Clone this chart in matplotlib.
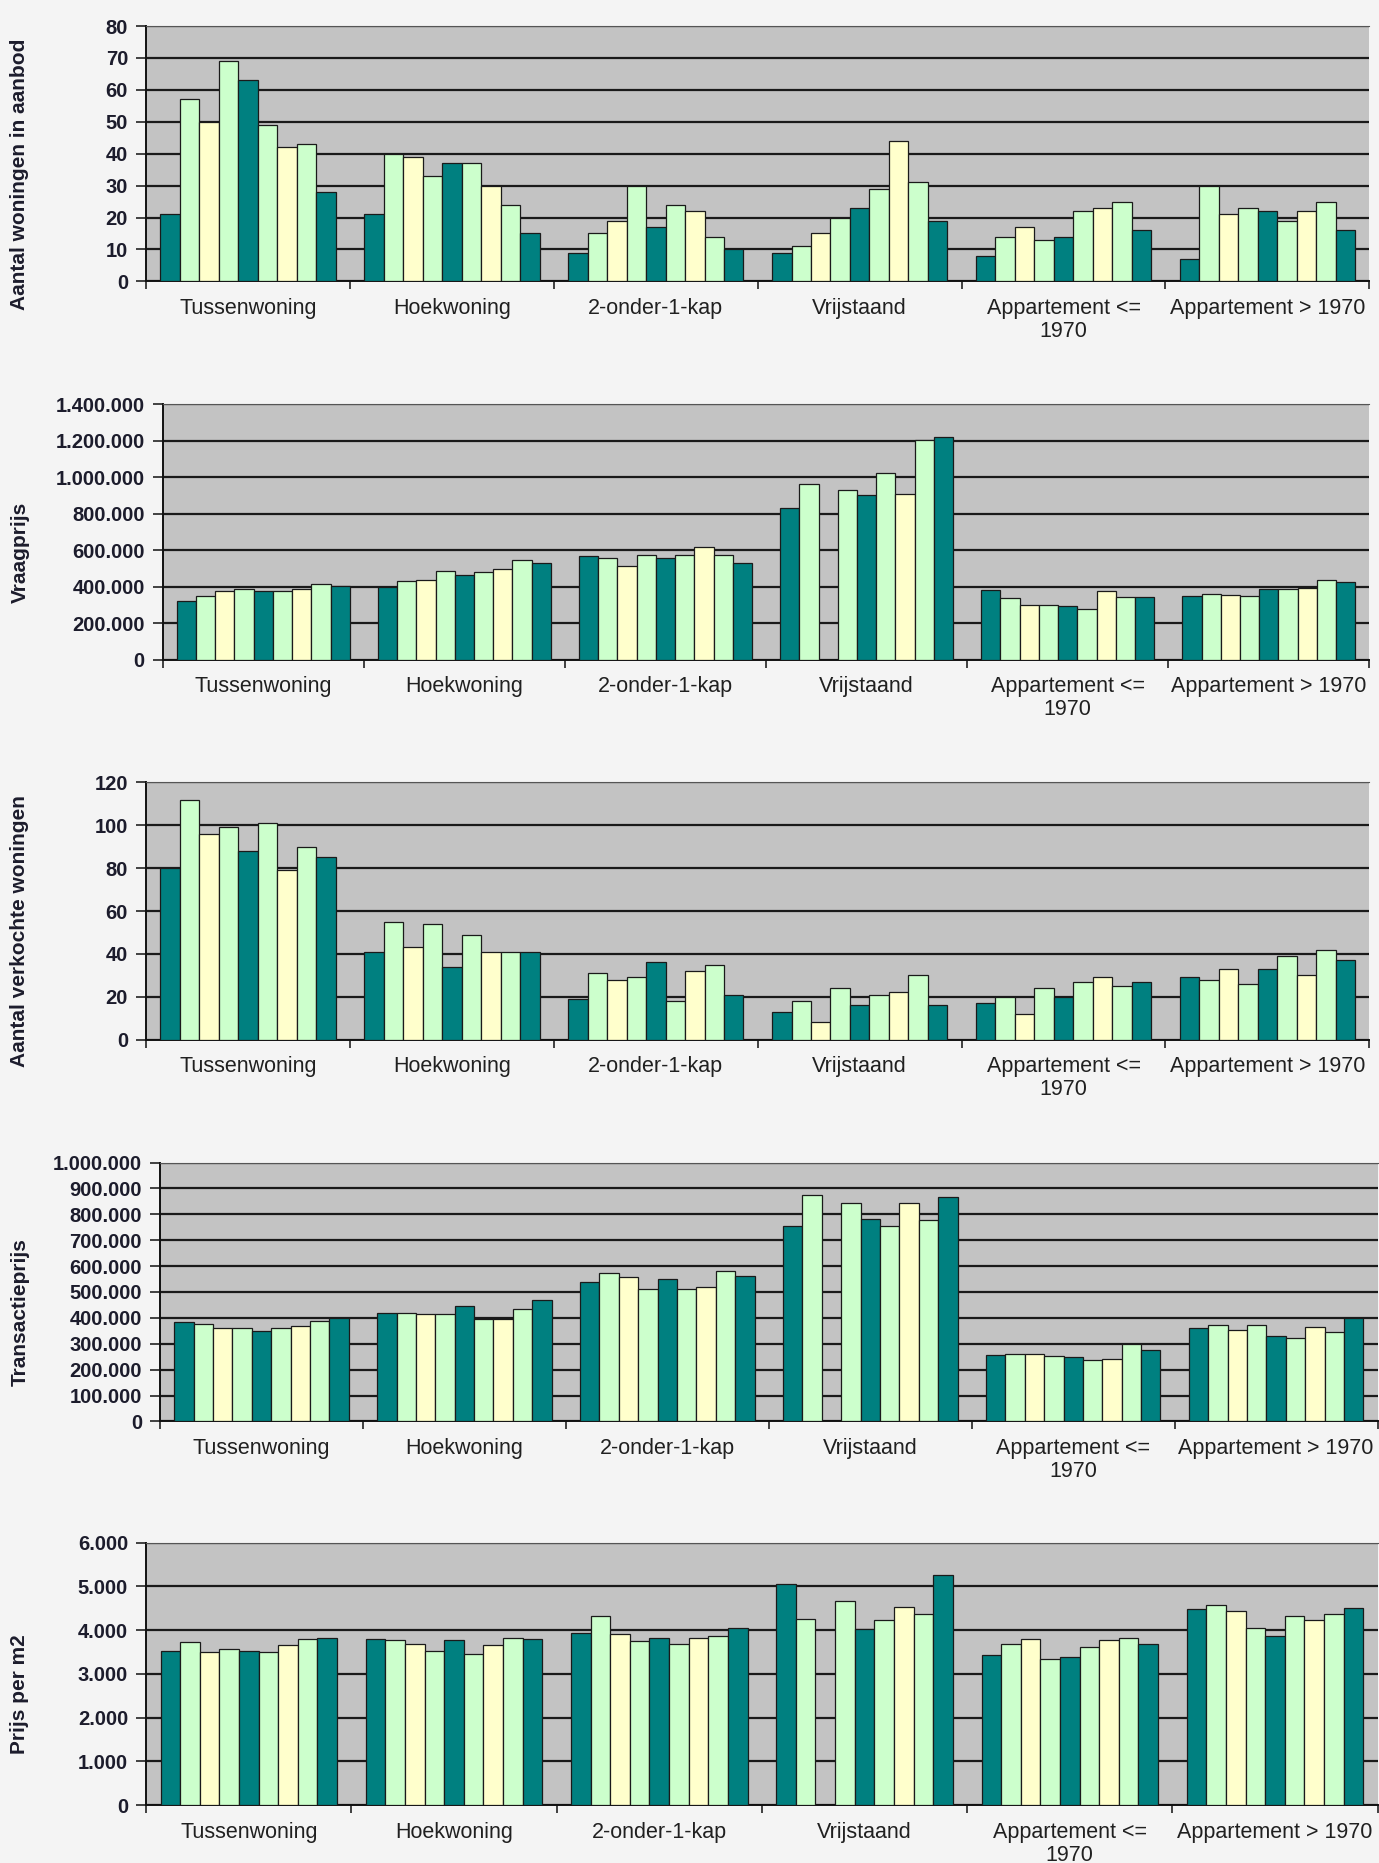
import numpy as np
import matplotlib.pyplot as plt
from matplotlib.ticker import FuncFormatter, MultipleLocator

plt.rcParams['font.family'] = ['Liberation Sans', 'DejaVu Sans']

categories = ['Tussenwoning', 'Hoekwoning', '2-onder-1-kap', 'Vrijstaand',
              'Appartement <=\n1970', 'Appartement > 1970']

# 9 series per category, colours repeat dark / green / yellow / green
bar_colors = ['#008080', '#ccffcc', '#ffffcc', '#ccffcc', '#008080',
              '#ccffcc', '#ffffcc', '#ccffcc', '#008080']

aanbod = [
    [21, 57, 50, 69, 63, 49, 42, 43, 28],
    [21, 40, 39, 33, 37, 37, 30, 24, 15],
    [9, 15, 19, 30, 17, 24, 22, 14, 10],
    [9, 11, 15, 20, 23, 29, 44, 31, 19],
    [8, 14, 17, 13, 14, 22, 23, 25, 16],
    [7, 30, 21, 23, 22, 19, 22, 25, 16],
]

vraagprijs = [
    [322000, 351000, 375000, 384000, 376000, 376000, 384000, 413000, 405000],
    [396000, 431000, 438000, 485000, 464000, 478000, 496000, 544000, 529000],
    [567000, 555000, 515000, 571000, 558000, 575000, 618000, 575000, 531000],
    [831000, 962000, np.nan, 931000, 902000, 1024000, 909000, 1204000, 1222000],
    [382000, 336000, 300000, 300000, 295000, 278000, 376000, 345000, 345000],
    [349000, 362000, 356000, 347000, 389000, 387000, 393000, 438000, 425000],
]

verkocht = [
    [80, 112, 96, 99, 88, 101, 79, 90, 85],
    [41, 55, 43, 54, 34, 49, 41, 41, 41],
    [19, 31, 28, 29, 36, 18, 32, 35, 21],
    [13, 18, 8, 24, 16, 21, 22, 30, 16],
    [17, 20, 12, 24, 20, 27, 29, 25, 27],
    [29, 28, 33, 26, 33, 39, 30, 42, 37],
]

transactieprijs = [
    [383000, 378000, 360000, 360000, 349000, 360000, 368000, 387000, 399000],
    [420000, 420000, 414000, 414000, 445000, 396000, 396000, 433000, 469000],
    [538000, 573000, 556000, 513000, 550000, 513000, 521000, 580000, 562000],
    [756000, 874000, np.nan, 844000, 782000, 756000, 844000, 779000, 868000],
    [255000, 259000, 259000, 254000, 249000, 236000, 241000, 299000, 276000],
    [360000, 372000, 355000, 372000, 329000, 323000, 365000, 344000, 399000],
]

prijs_m2 = [
    [3530, 3720, 3490, 3570, 3530, 3490, 3650, 3790, 3830],
    [3800, 3770, 3690, 3530, 3770, 3450, 3650, 3830, 3800],
    [3930, 4330, 3920, 3750, 3830, 3690, 3830, 3860, 4050],
    [5060, 4250, np.nan, 4660, 4020, 4230, 4520, 4360, 5270],
    [3430, 3690, 3790, 3350, 3390, 3610, 3770, 3830, 3690],
    [4480, 4570, 4430, 4050, 3860, 4320, 4220, 4360, 4510],
]

ylabels = ['Aantal woningen in aanbod', 'Vraagprijs', 'Aantal verkochte woningen',
           'Transactieprijs', 'Prijs per m2']

panels = [
    # data, ymax, step, [left, bottom, width, height], narrow label font
    (aanbod, 80, 10, [0.106, 0.849, 0.887, 0.137], False),
    (vraagprijs, 1400000, 200000, [0.118, 0.646, 0.875, 0.137], False),
    (verkocht, 120, 20, [0.106, 0.442, 0.887, 0.138], True),
    (transactieprijs, 1000000, 100000, [0.116, 0.237, 0.883, 0.139], True),
    (prijs_m2, 6000, 1000, [0.106, 0.031, 0.893, 0.141], True),
]

fig = plt.figure(figsize=(13.79, 18.63), dpi=100)
fig.patch.set_facecolor('#f4f4f4')

dots = FuncFormatter(lambda v, p: f'{int(round(v)):,}'.replace(',', '.'))

n_ser = len(bar_colors)
group_w = 0.86
bw = group_w / n_ser
x = np.arange(len(categories))

for (data, ymax, step, rect, narrow), label in zip(panels, ylabels):
    ax = fig.add_axes(rect)
    ax.set_facecolor('#c3c3c3')
    vals = np.array(data, dtype=float)
    for s in range(n_ser):
        pos = x - group_w / 2 + bw * (s + 0.5)
        ax.bar(pos, vals[:, s], width=bw, color=bar_colors[s],
               edgecolor='#1a1a1a', linewidth=0.9, zorder=3)
    ax.set_xlim(-0.5, len(categories) - 0.5)
    ax.set_ylim(0, ymax)
    ax.yaxis.set_major_locator(MultipleLocator(step))
    ax.yaxis.set_major_formatter(dots)
    ax.grid(axis='y', color='#1a1a1a', linewidth=1.6, zorder=1)
    ax.set_axisbelow(True)

    # category names centred, tick marks between categories
    ax.set_xticks(x)
    ax.set_xticklabels(categories, fontsize=15.5, color='#202020', linespacing=1.1)
    ax.tick_params(axis='x', length=0, pad=12)
    ax.set_xticks(np.arange(-0.5, len(categories)), minor=True)
    ax.tick_params(axis='x', which='minor', length=6, width=1.2, color='#222222')
    ax.tick_params(axis='y', length=7, width=1.2, color='#222222', labelsize=14.5,
                   pad=6)
    for t in ax.get_yticklabels():
        t.set_fontweight('bold')
        t.set_color('#1c1c2c')

    for side in ['left', 'bottom']:
        ax.spines[side].set_color('#111111')
        ax.spines[side].set_linewidth(1.4)
    ax.spines['top'].set_color('#555555')
    ax.spines['right'].set_visible(False)

    fam = ['Liberation Sans Narrow', 'Liberation Sans'] if narrow else ['Liberation Sans']
    fig.text(0.0145, rect[1] + rect[3] / 2 - 0.011, label, rotation=90, ha='center',
             va='center', fontsize=15, fontweight='bold', family=fam,
             color='#1c1c2c')

fig.savefig('out.png', dpi=100, facecolor=fig.get_facecolor())
